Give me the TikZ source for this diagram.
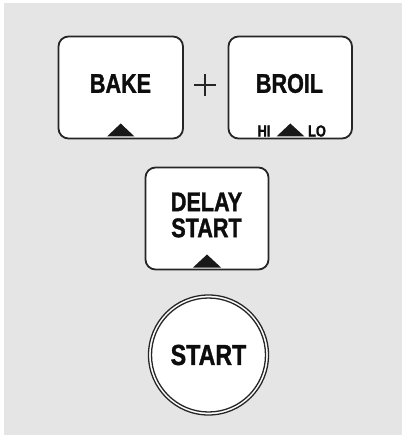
\documentclass[tikz,border=0pt]{standalone}
\usepackage{fontspec}
\setmainfont{Liberation Sans}[FakeStretch=0.8,BoldFeatures={FakeBold=1.2}]
\begin{document}
\begin{tikzpicture}[x=1pt,y=-1pt,
  keybox/.style={draw=black!85,line width=1.8pt,fill=white,rounded corners=10pt},
  keylabel/.style={font=\bfseries\fontsize{27}{27}\selectfont,inner sep=0pt,text=black!95},
  smalllabel/.style={font=\bfseries\fontsize{16}{16}\selectfont,inner sep=0pt,text=black!95},
  tri/.style={fill=black!90,draw=none}]
\useasboundingbox (0,0) rectangle (402,435);
\fill[white] (0,0) rectangle (402,435);
\fill[black!10] (4,3) rectangle (402,435);
% BAKE
\draw[keybox] (58.5,36.5) rectangle (183,138.5);
\node[keylabel] (bake) at (120.5,83.5) {BAKE};
\fill[tri] (107,136.5) -- (120.7,123.5) -- (134.5,136.5) -- cycle;
% plus
\coordinate (pl) at (205,85);
\draw[line width=1.3pt,black!85] ([xshift=-11pt]pl) -- ([xshift=11pt]pl) ([yshift=-11pt]pl) -- ([yshift=11pt]pl);
% BROIL
\draw[keybox] (228.5,36.5) rectangle (352,138.5);
\node[keylabel] (broil) at (289.5,83.5) {BROIL};
\node[smalllabel] (hi) at (264,131) {HI};
\node[smalllabel] (lo) at (317,131) {LO};
\fill[tri] (276.5,136.5) -- (290.3,123.5) -- (304.5,136.5) -- cycle;
% DELAY START
\draw[keybox] (145.5,167.5) rectangle (268.5,269.5);
\node[keylabel,align=center] (delay) at (206.5,215) {DELAY\\[-1pt]START};
\fill[tri] (193,267.5) -- (207,254.5) -- (221,267.5) -- cycle;
% START
\coordinate (sc) at (208.5,355);
\fill[white] (sc) circle (60);
\draw[black!85,line width=1.3pt] (sc) circle (60);
\draw[black!85,line width=1.3pt] (sc) circle (57);
\node[keylabel,font=\bfseries\fontsize{29}{29}\selectfont] (start) at (sc) {START};
\end{tikzpicture}
\end{document}
